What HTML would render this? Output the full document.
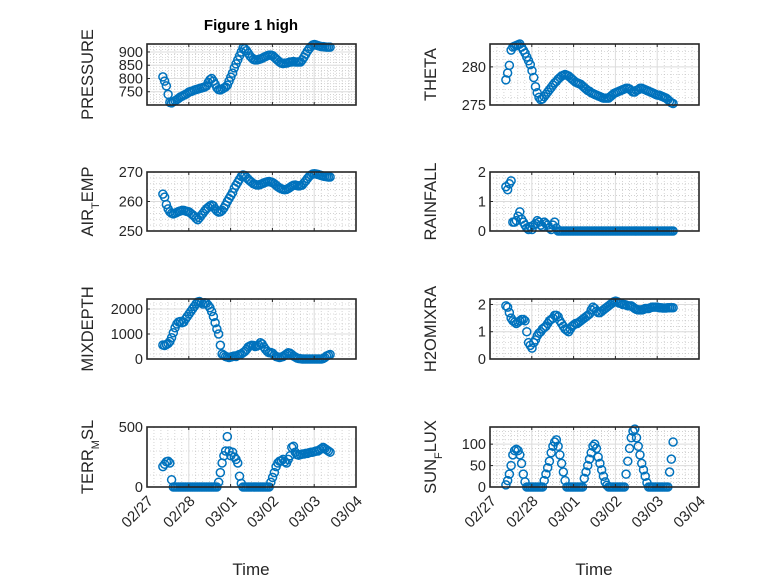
<!DOCTYPE html>
<html><head><meta charset="utf-8"><style>
html,body{margin:0;padding:0;background:#fff;}
svg{display:block;font-family:"Liberation Sans",sans-serif;}
</style></head><body>
<svg id="fig" width="778" height="583" viewBox="0 0 778 583">
<text x="251" y="30" text-anchor="middle" font-size="15" font-weight="bold" fill="#000">Figure 1 high</text>
<text x="251" y="575" text-anchor="middle" font-size="17" fill="#262626">Time</text>
<text x="594" y="575" text-anchor="middle" font-size="17" fill="#262626">Time</text>
</svg>
<script>
const xTickLabels = ["02/27","02/28","03/01","03/02","03/03","03/04"];
const startDay = 0.38;
const pressure = [806,790,772,740,710,708,712,716,720,725,730,733,737,740,744,749,751,753,756,758,760,762,764,766,768,772,785,795,800,790,778,765,758,757,760,764,768,775,790,805,820,840,855,870,885,900,915,912,905,895,885,878,872,870,870,872,874,876,880,883,886,888,888,886,880,874,868,862,858,856,858,858,860,862,862,864,862,862,862,862,870,880,892,903,912,920,926,928,926,924,922,920,920,919,918,918,918];
const theta = [278.3,279.2,280.2,282.2,282.6,282.7,282.8,282.9,283,282.6,282.2,281.8,281.3,280.8,280.3,279.5,278.6,277.4,276.6,276,275.7,275.8,276.1,276.4,276.7,277,277.3,277.6,277.9,278.1,278.4,278.6,278.8,278.9,279,278.9,278.8,278.6,278.4,278.2,278,277.9,277.8,277.7,277.5,277.3,277.1,276.9,276.8,276.6,276.5,276.4,276.3,276.2,276.1,276.0,275.9,275.9,275.9,275.9,276.1,276.3,276.5,276.6,276.7,276.8,276.9,277,277.1,277.2,277.2,277.1,276.9,276.7,276.7,276.9,277,277.2,277.2,277.1,277,276.9,276.8,276.7,276.6,276.5,276.4,276.3,276.3,276.2,276.1,276,275.9,275.7,275.5,275.3,275.2];
const airTemp = [262.5,261.5,259,257.5,256.5,256,255.8,256,256.3,256.6,256.8,257,257,256.8,256.6,256.5,256,255.5,255,254.3,253.8,254.5,255.3,256,256.8,257.5,258,258.5,258.8,258.5,257.5,256.8,256.4,256.5,257,257.8,258.8,260,261,262,263,264.5,265.5,266.5,267.5,268.5,269,268.8,268.2,267.5,267,266.5,266,265.8,265.6,265.6,265.8,266,266.3,266.5,266.7,266.8,266.6,266.4,266,265.5,265,264.6,264.3,264.1,264,264.1,264.4,264.8,265.2,265.5,265.6,265.4,265.3,265.4,265.6,266.3,267,267.8,268.5,269,269.3,269.4,269.3,269.2,269,268.8,268.6,268.5,268.4,268.3,268.3];
const rainfall = [1.5,1.4,1.6,1.7,0.3,0.3,0.35,0.5,0.65,0.4,0.3,0.2,0.1,0.05,0.15,0.05,0.2,0.25,0.35,0.3,0.2,0.15,0.3,0.25,0.2,0.1,0.05,0.2,0.3,0.1,0,0,0,0,0,0,0,0,0,0,0,0,0,0,0,0,0,0,0,0,0,0,0,0,0,0,0,0,0,0,0,0,0,0,0,0,0,0,0,0,0,0,0,0,0,0,0,0,0,0,0,0,0,0,0,0,0,0,0,0,0,0,0,0,0,0,0];
const mixDepth = [560,540,580,620,700,850,1050,1250,1400,1480,1500,1450,1480,1600,1700,1800,1900,2000,2100,2200,2280,2300,2250,2200,2250,2230,2150,2050,1900,1700,1450,1200,1000,550,200,150,100,80,60,80,100,120,100,150,180,200,250,300,380,480,520,550,540,500,520,560,650,600,480,380,300,250,260,230,150,100,80,60,80,100,150,200,250,230,180,120,80,40,20,10,0,0,0,0,0,0,0,0,0,0,0,0,20,60,120,150,180];
const h2oMix = [1.95,1.9,1.7,1.5,1.4,1.35,1.3,1.35,1.4,1.45,1.45,1.4,1.0,0.6,0.5,0.4,0.6,0.7,0.85,0.95,1.0,1.1,1.15,1.2,1.3,1.4,1.45,1.5,1.6,1.6,1.55,1.4,1.3,1.2,1.1,1.05,1.0,1.1,1.2,1.25,1.3,1.3,1.35,1.4,1.45,1.5,1.55,1.6,1.65,1.8,1.9,1.85,1.75,1.7,1.7,1.75,1.8,1.85,1.9,1.95,2.0,2.05,2.1,2.12,2.1,2.05,2.05,2.0,2.0,1.98,1.95,1.95,1.95,1.9,1.85,1.82,1.8,1.8,1.8,1.82,1.85,1.85,1.85,1.88,1.9,1.9,1.9,1.9,1.88,1.88,1.87,1.87,1.87,1.88,1.88,1.88,1.88];
const terrMsl = [170,190,210,215,200,60,0,0,0,0,0,0,0,0,0,0,0,0,0,0,0,0,0,0,0,0,0,0,0,0,0,0,40,120,200,260,300,420,300,260,290,250,230,200,90,30,0,0,0,0,0,0,0,0,0,0,0,0,0,0,0,0,40,80,120,170,200,215,220,230,210,200,230,260,330,340,290,270,265,270,275,275,280,280,285,290,290,295,300,300,310,320,330,320,310,300,290];
const sunFlux = [5,15,30,50,75,85,88,85,75,55,30,12,0,0,0,0,0,0,0,0,0,0,15,30,45,60,80,95,105,110,95,75,55,35,15,0,0,0,0,0,0,0,0,0,0,20,35,50,65,80,95,100,90,70,55,40,25,12,4,0,0,0,0,0,0,0,0,0,0,30,60,90,115,130,135,115,95,75,55,40,25,10,0,0,0,0,0,0,0,0,0,0,0,0,35,65,105];

const NS = "http://www.w3.org/2000/svg";
const svg = document.getElementById('fig');
function mk(tag, attrs, parent){ const e=document.createElementNS(NS,tag); for(const k in attrs) e.setAttribute(k,attrs[k]); (parent||svg).appendChild(e); return e; }

const LX=147, RX=490, W=209;
const panels = [
 {key:'pressure', data:pressure, x0:LX, y0:44, h:61, ymin:700, ymax:930, ticks:[750,800,850,900], minor:10, label:'PRESSURE', sub:null},
 {key:'theta', data:theta, x0:RX, y0:44, h:61, ymin:275, ymax:283, ticks:[275,280], minor:1, label:'THETA', sub:null},
 {key:'air-temp', data:airTemp, x0:LX, y0:172, h:59, ymin:250, ymax:270, ticks:[250,260,270], minor:2, label:['AIR','T','EMP']},
 {key:'rainfall', data:rainfall, x0:RX, y0:172, h:59, ymin:0, ymax:2, ticks:[0,1,2], minor:0.2, label:'RAINFALL'},
 {key:'mixdepth', data:mixDepth, x0:LX, y0:299, h:60, ymin:0, ymax:2400, ticks:[0,1000,2000], minor:200, label:'MIXDEPTH'},
 {key:'h2omixra', data:h2oMix, x0:RX, y0:299, h:60, ymin:0, ymax:2.2, ticks:[0,1,2], minor:0.2, label:'H2OMIXRA'},
 {key:'terr-msl', data:terrMsl, x0:LX, y0:427, h:60, ymin:0, ymax:500, ticks:[0,500], minor:100, label:['TERR','M','SL'], bottom:true},
 {key:'sun-flux', data:sunFlux, x0:RX, y0:427, h:60, ymin:0, ymax:140, ticks:[0,50,100], minor:10, label:['SUN','F','LUX'], bottom:true}
];

panels.forEach(p=>{
  const g = mk('g',{});
  
  
  const xs = d => p.x0 + d/5*W;
  const ys = v => p.y0 + p.h - (v-p.ymin)/(p.ymax-p.ymin)*p.h;
  const yb = p.y0+p.h;
  mk('rect',{x:p.x0,y:p.y0,width:W,height:p.h,fill:'#fff'},g);
  for(let d=0; d<5; d++) for(let k=1;k<6;k++){
    const x=xs(d+k/6);
    mk('line',{x1:x,x2:x,y1:p.y0,y2:yb,stroke:'#b8b8b8','stroke-width':0.6,'stroke-dasharray':'1,2'},g);
  }
  for(let v=Math.ceil(p.ymin/p.minor)*p.minor; v<p.ymax; v+=p.minor){
    const y=ys(v); if(Math.abs(y-yb)<1||Math.abs(y-p.y0)<1) continue;
    mk('line',{x1:p.x0,x2:p.x0+W,y1:y,y2:y,stroke:'#b8b8b8','stroke-width':0.6,'stroke-dasharray':'1,2'},g);
  }
  for(let d=1; d<5; d++){ const x=xs(d); mk('line',{x1:x,x2:x,y1:p.y0,y2:yb,stroke:'#dcdcdc','stroke-width':1},g); }
  p.ticks.forEach(v=>{ const y=ys(v); mk('line',{x1:p.x0,x2:p.x0+W,y1:y,y2:y,stroke:'#dcdcdc','stroke-width':1},g); });
  p.data.forEach((v,i)=>{
    const c = mk('circle',{cx:xs(startDay+i/24).toFixed(2), cy:ys(v).toFixed(2), r:4, fill:'none', stroke:'#0072BD','stroke-width':1.5},g);
    
    
  });
  mk('rect',{x:p.x0,y:p.y0,width:W,height:p.h,fill:'none',stroke:'#262626','stroke-width':1.6},g);
  for(let d=0; d<=5; d++){
    const x=xs(d);
    mk('line',{x1:x,x2:x,y1:yb,y2:yb-3,stroke:'#262626'},g);
    mk('line',{x1:x,x2:x,y1:p.y0,y2:p.y0+3,stroke:'#262626'},g);
    if(p.bottom){
      const ax=x+7, ay=yb+15;
      const t = mk('text',{x:ax,y:ay,'text-anchor':'end','font-size':15,fill:'#262626',transform:`rotate(-45 ${ax} ${ay})`},g);
      t.textContent = xTickLabels[d];
      
      
    }
  }
  p.ticks.forEach(v=>{
    const y=ys(v);
    mk('line',{x1:p.x0,x2:p.x0+3,y1:y,y2:y,stroke:'#262626'},g);
    const t = mk('text',{x:p.x0-4,y:y+5,'text-anchor':'end','font-size':14.5,fill:'#262626'},g);
    t.textContent = String(v);
    
    
  });
  const lx = p.x0 - 54, ly = p.y0 + p.h/2;
  const yl = mk('text',{x:lx,y:ly,'text-anchor':'middle','font-size':16.5,fill:'#262626',transform:`rotate(-90 ${lx} ${ly})`},g);
  if(Array.isArray(p.label)){
    const a=mk('tspan',{},yl); a.textContent=p.label[0];
    const b=mk('tspan',{'baseline-shift':'sub','font-size':11},yl); b.textContent=p.label[1];
    const c=mk('tspan',{},yl); c.textContent=p.label[2];
  } else yl.textContent = p.label;
  
  
});
</script>
</body></html>
